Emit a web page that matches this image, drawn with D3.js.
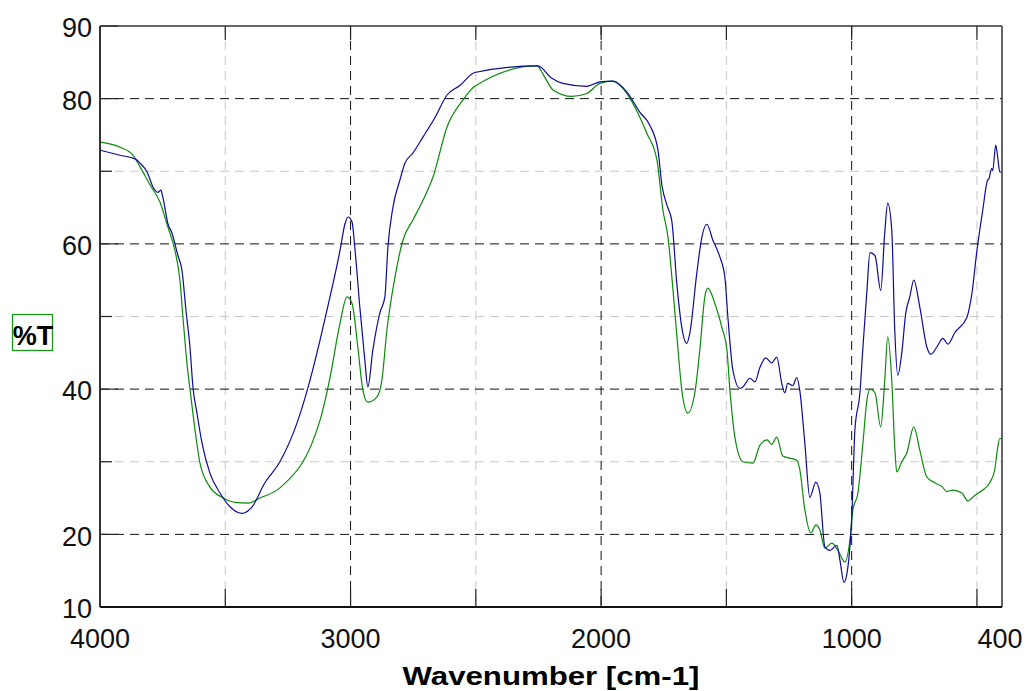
<!DOCTYPE html>
<html>
<head>
<meta charset="utf-8">
<script src="https://cdn.jsdelivr.net/npm/d3@7"></script>
<style>
  body { margin: 0; background: #fff; }
  svg { display: block; font-family: "Liberation Sans", Arial, sans-serif; }
</style>
</head>
<body>
<svg width="1027" height="691"></svg>
<script>
// wavenumber [cm-1], %T
const blueWn = [4000,3920,3860,3840,3812,3788,3769,3757,3749,3729,3713,3689,3673,3657,3641,3629,3613,3593,3561,3521,3481,3433,3393,3342,3282,3210,3162,3122,3082,3042,3022,3010,2994,2983,2963,2943,2931,2911,2883,2863,2851,2831,2803,2783,2751,2711,2663,2615,2564,2504,2252,2197,2153,2057,2005,1953,1897,1845,1805,1773,1757,1737,1718,1698,1678,1658,1646,1618,1598,1578,1554,1526,1506,1494,1474,1446,1434,1406,1386,1366,1343,1319,1299,1279,1267,1255,1235,1219,1207,1187,1167,1143,1127,1107,1087,1059,1047,1031,1015,999,987,967,955,939,927,907,884,868,856,840,828,816,800,784,768,752,728,700,684,660,636,616,588,540,520,500,477,457,453,441,437,425,417,409,400];
const blueT = [72.9,72.2,71.7,71.1,69.9,67.8,67.1,67.4,66.4,62.8,61.5,58.4,56.4,50.9,45.8,40.3,36.7,32.6,28.4,25.7,23.8,22.9,23.8,27.1,30.0,35.7,41.2,46.7,52.7,59.1,62.8,63.7,63.0,59.5,51.3,44.0,40.3,45.4,50.5,52.7,59.5,65.0,68.8,71.1,72.5,74.7,77.4,80.5,81.8,83.6,84.5,82.8,82.1,81.7,82.3,82.4,80.9,78.1,76.3,72.9,68.0,65.3,63.2,54.6,48.5,46.3,47.7,56.0,60.9,62.7,60.5,58.2,55.4,49.9,42.6,40.1,40.3,41.5,41.0,43.0,44.3,43.6,44.4,40.8,39.5,40.8,40.5,41.6,39.8,32.6,25.1,27.2,25.7,18.3,17.8,18.5,16.5,13.4,15.5,22.9,34.4,39.5,45.8,53.6,58.8,58.4,53.6,61.5,65.6,61.9,48.1,41.9,45.0,50.5,52.7,55.0,51.3,45.8,44.8,45.8,47.0,46.2,47.8,49.9,53.2,59.1,64.6,68.8,68.9,70.4,70.1,73.6,71.9,69.9,69.9];

const greenWn = [4000,3920,3868,3840,3800,3760,3729,3701,3681,3669,3653,3637,3617,3601,3561,3513,3461,3409,3362,3282,3122,3082,3042,3014,2994,2971,2951,2931,2895,2875,2855,2823,2791,2751,2711,2671,2615,2552,2504,2256,2224,2192,2117,2057,2005,1953,1897,1853,1817,1777,1753,1733,1713,1693,1678,1654,1626,1606,1586,1574,1546,1518,1498,1486,1466,1434,1394,1366,1338,1319,1299,1275,1247,1219,1207,1187,1163,1143,1127,1107,1079,1055,1027,1007,995,975,955,939,927,907,884,868,856,840,828,820,800,780,752,728,700,668,640,620,596,560,536,508,477,449,429,417,409,400];
const greenT = [74.0,73.3,72.2,70.6,68.1,65.7,62.3,59.1,55.0,49.9,43.6,38.9,33.4,29.8,26.5,25.1,24.4,24.3,25.0,26.4,35.7,41.6,49.1,52.7,51.8,45.8,39.9,38.2,38.9,41.2,48.1,55.4,60.5,63.3,66.0,69.2,76.1,79.8,81.7,84.5,82.9,81.2,80.3,80.7,82.1,82.4,80.7,78.0,75.2,71.5,64.6,60.9,53.6,45.4,39.9,36.7,39.5,45.4,52.7,53.9,51.8,48.5,45.4,39.9,33.4,30.0,29.8,32.3,33.0,32.4,33.4,30.8,30.5,30.2,28.9,23.4,20.2,21.3,20.6,18.1,18.8,17.8,16.2,19.2,23.4,25.7,32.6,38.5,40.0,39.5,34.8,41.2,47.2,41.2,32.0,28.6,30.0,31.2,34.8,31.6,27.9,27.1,26.6,25.9,26.1,25.7,24.6,25.4,26.1,27.1,28.9,32.0,33.2,33.2];

const xMajor = [3000, 2000, 1000];
const xMinor = [3500, 2500, 1500, 500];
const xLabels = [4000, 3000, 2000, 1000, 400];
const yMajor = [20, 40, 60, 80];
const yMinor = [30, 50, 70];
const yLabels = [90, 80, 60, 40, 20, 10];

const svg = d3.select('svg');
const mLeft = 100, mRight = 1002, mTop = 26, mBottom = 607;

const x = d3.scaleLinear().domain([4000, 400]).range([mLeft, mRight]);
const y = d3.scaleLinear().domain([10, 90]).range([mBottom, mTop]);

const grid = svg.append('g');
// minor grid
grid.selectAll('.vmin').data(xMinor).enter().append('line')
  .attr('x1', d => x(d)).attr('x2', d => x(d)).attr('y1', mTop).attr('y2', mBottom)
  .attr('stroke', '#c8c8c8').attr('stroke-dasharray', '9,6');
grid.selectAll('.hmin').data(yMinor).enter().append('line')
  .attr('x1', mLeft).attr('x2', mRight).attr('y1', d => y(d)).attr('y2', d => y(d))
  .attr('stroke', '#c8c8c8').attr('stroke-dasharray', '9,6');
// major grid
grid.selectAll('.vmaj').data(xMajor).enter().append('line')
  .attr('x1', d => x(d)).attr('x2', d => x(d)).attr('y1', mTop).attr('y2', mBottom)
  .attr('stroke', '#111').attr('stroke-dasharray', '9,6');
grid.selectAll('.hmaj').data(yMajor).enter().append('line')
  .attr('x1', mLeft).attr('x2', mRight).attr('y1', d => y(d)).attr('y2', d => y(d))
  .attr('stroke', '#111').attr('stroke-dasharray', '9,6');

// ticks
const ticks = svg.append('g').attr('stroke', '#222').attr('stroke-width', 1.2);
ticks.selectAll('.ly').data(yMajor.concat([90, 10])).enter().append('line')
  .attr('x1', mLeft).attr('x2', mLeft + 18).attr('y1', d => y(d)).attr('y2', d => y(d));
ticks.selectAll('.lym').data(yMinor).enter().append('line')
  .attr('x1', mLeft).attr('x2', mLeft + 12).attr('y1', d => y(d)).attr('y2', d => y(d));
ticks.selectAll('.bx').data(xMajor.concat(xMinor)).enter().append('line')
  .attr('x1', d => x(d)).attr('x2', d => x(d)).attr('y1', mBottom).attr('y2', mBottom - 18);
ticks.selectAll('.tx').data(xMajor.concat(xMinor)).enter().append('line')
  .attr('x1', d => x(d)).attr('x2', d => x(d)).attr('y1', mTop).attr('y2', mTop + 14);

// spectra
const line = (wn, t) => d3.line()
  .x(i => x(wn[i])).y(i => y(t[i]))
  .curve(d3.curveMonotoneX)(d3.range(wn.length));

svg.append('path').attr('d', line(greenWn, greenT))
  .attr('fill', 'none').attr('stroke', '#0b8a0b').attr('stroke-width', 1.2);
svg.append('path').attr('d', line(blueWn, blueT))
  .attr('fill', 'none').attr('stroke', '#0c0c96').attr('stroke-width', 1.2);

// frame
svg.append('line').attr('x1', mLeft).attr('x2', mRight).attr('y1', mTop).attr('y2', mTop)
  .attr('stroke', '#333').attr('stroke-width', 1.5);
svg.append('line').attr('x1', mRight).attr('x2', mRight).attr('y1', mTop).attr('y2', mBottom)
  .attr('stroke', '#333').attr('stroke-width', 1.5);
svg.append('line').attr('x1', mLeft).attr('x2', mLeft).attr('y1', mTop).attr('y2', mBottom)
  .attr('stroke', '#333').attr('stroke-width', 2);
svg.append('line').attr('x1', mLeft).attr('x2', mRight).attr('y1', mBottom).attr('y2', mBottom)
  .attr('stroke', '#111').attr('stroke-width', 2);

// tick labels
svg.selectAll('.ylab').data(yLabels).enter().append('text')
  .attr('x', 92).attr('y', d => y(d)).attr('dy', '0.42em')
  .attr('text-anchor', 'end').attr('font-size', 27).attr('fill', '#111')
  .text(d => d);
svg.selectAll('.xlab').data(xLabels).enter().append('text')
  .attr('x', d => d === 400 ? x(d) - 2 : x(d)).attr('y', 648)
  .attr('text-anchor', 'middle').attr('font-size', 27).attr('fill', '#111')
  .text(d => d);

// axis titles (glyphs in the original are drawn wider than normal)
svg.append('text')
  .attr('transform', 'translate(551,685) scale(1.2,1)')
  .attr('text-anchor', 'middle').attr('font-size', 26).attr('font-weight', 'bold')
  .text('Wavenumber [cm-1]');

svg.append('rect')
  .attr('x', 12.5).attr('y', 314.5).attr('width', 40).attr('height', 36)
  .attr('fill', 'none').attr('stroke', '#1a9a1a').attr('stroke-width', 1.3);
svg.append('text')
  .attr('x', 33).attr('y', 345)
  .attr('text-anchor', 'middle').attr('font-size', 27).attr('font-weight', 'bold')
  .text('%T');
</script>
</body>
</html>
